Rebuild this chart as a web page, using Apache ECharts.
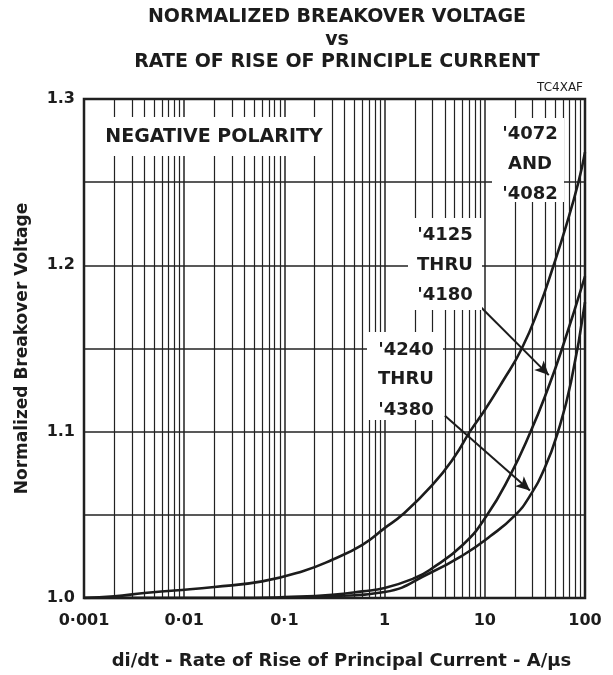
<!DOCTYPE html>
<html><head><meta charset="utf-8">
<script src="https://cdn.jsdelivr.net/npm/echarts@6/dist/echarts.min.js"></script>
<style>html,body{margin:0;padding:0;background:#fff}#c{width:613px;height:675px}</style>
</head><body><div id="c"></div>
<script>
// ---- data ----
const xTickLabels = ['0·001', '0·01', '0·1', '1', '10', '100'];
const yTickLabels = ['1.0', '1.1', '1.2', '1.3'];
const minorX = [0.002,0.003,0.004,0.005,0.006,0.007,0.008,0.009,
                0.02,0.03,0.04,0.05,0.06,0.07,0.08,0.09,
                0.2,0.3,0.4,0.5,0.6,0.7,0.8,0.9,
                2,3,4,5,6,7,8,9,
                20,30,40,50,60,70,80,90];
// '4072 AND '4082
const xA = [0.001, 0.002, 0.004, 0.008, 0.02, 0.06, 0.15, 0.3, 0.6, 1, 1.5, 3, 5, 7.1, 10, 15, 23.4, 35, 48, 65, 86, 100];
const yA = [1.000, 1.001, 1.003, 1.0045, 1.0066, 1.010, 1.016, 1.023, 1.032, 1.042, 1.050, 1.068, 1.085, 1.100, 1.113, 1.130, 1.150, 1.175, 1.199, 1.224, 1.250, 1.268];
// '4125 THRU '4180
const xB = [0.001, 0.05, 0.1, 0.3, 0.6, 1, 2, 2.84, 6.05, 10.5, 17.8, 28.2, 42.8, 58.9, 100];
const yB = [1.000, 1.000, 1.0005, 1.002, 1.004, 1.006, 1.012, 1.017, 1.032, 1.0497, 1.0734, 1.099, 1.1261, 1.1497, 1.1934];
// '4240 THRU '4380
const xC = [0.001, 0.1, 0.3, 1, 2.84, 6.05, 11.3, 20, 28.2, 39.9, 53.8, 72.5, 100];
const yC = [1.000, 1.000, 1.001, 1.0036, 1.015, 1.0257, 1.0371, 1.0497, 1.0614, 1.0786, 1.100, 1.1298, 1.1778];
// annotation arrows (data coords): [x1,y1,x2,y2]
const arrow1 = [8.55, 1.1766, 43.5, 1.134];
const arrow2 = [4.0, 1.1096, 28.2, 1.0647];

const zip = (xs, ys) => xs.map((x, i) => [x, ys[i]]);
const FONT = '"DejaVu Sans", "Liberation Sans", Arial, sans-serif';
const INK = '#1c1c1c';

const chart = echarts.init(document.getElementById('c'), null, {renderer: 'canvas'});

const curveStyle = {color: INK, width: 2.6};
const txt = (x, y, text, size, extra) => Object.assign({type: 'text', x: x, y: y, z: 26,
  style: {text: text, textAlign: 'center', textVerticalAlign: 'middle', font: 'bold ' + size + 'px ' + FONT, fill: INK}}, extra || {});

const option = {
  animation: false,
  backgroundColor: '#fff',
  grid: {left: 84, top: 99, width: 501, height: 501, show: true, borderColor: INK, borderWidth: 2.5, backgroundColor: 'transparent'},
  xAxis: {
    type: 'log', logBase: 10, min: 0.001, max: 100,
    axisLine: {show: false}, axisTick: {show: false},
    splitLine: {show: true, lineStyle: {color: '#222', width: 1.5}},
    axisLabel: {
      margin: 15, color: INK, fontFamily: FONT, fontWeight: 'bold', fontSize: 16,
      formatter: v => { const i = Math.round(Math.log10(v)) + 3; return xTickLabels[i] ?? ''; }
    },
    name: 'di/dt - Rate of Rise of Principal Current - A/\u03bcs',
    nameLocation: 'middle', nameGap: 54,
    nameTextStyle: {color: INK, fontFamily: FONT, fontWeight: 'bold', fontSize: 18, padding: [0, 0, 0, 14]}
  },
  yAxis: {
    type: 'value', min: 1.0, max: 1.3, interval: 0.05,
    axisLine: {show: false}, axisTick: {show: false},
    splitLine: {show: true, lineStyle: {color: '#222', width: 1.5}},
    axisLabel: {
      margin: 9, color: INK, fontFamily: FONT, fontWeight: 'bold', fontSize: 16,
      formatter: v => { const k = Math.round((v - 1) * 10); return Math.abs((v - 1) * 10 - k) < 1e-6 ? yTickLabels[k] : ''; }
    },
    name: 'Normalized Breakover Voltage', nameLocation: 'middle', nameGap: 53, nameRotate: 90,
    nameTextStyle: {color: INK, fontFamily: FONT, fontWeight: 'bold', fontSize: 17}
  },
  series: [
    {type: 'line', data: zip(xA, yA), smooth: 0.5, showSymbol: false, lineStyle: curveStyle, z: 5,
     markLine: {silent: true, symbol: 'none', label: {show: false}, z: 1,
       lineStyle: {color: '#222', width: 1.2, type: 'solid'},
       data: minorX.map(v => [{coord: [v, 1.0]}, {coord: [v, 1.3]}])}},
    {type: 'line', data: zip(xB, yB), smooth: 0.5, showSymbol: false, lineStyle: curveStyle, z: 5},
    {type: 'line', data: zip(xC, yC), smooth: 0.5, showSymbol: false, lineStyle: curveStyle, z: 5,
     markLine: {silent: true, symbol: ['none', 'arrow'], symbolSize: [10, 14], label: {show: false}, z: 20,
       lineStyle: {color: INK, width: 2, type: 'solid'},
       data: [
         [{coord: [arrow1[0], arrow1[1]]}, {coord: [arrow1[2], arrow1[3]]}],
         [{coord: [arrow2[0], arrow2[1]]}, {coord: [arrow2[2], arrow2[3]]}]
       ]}}
  ],
  graphic: [
    txt(337, 17, 'NORMALIZED BREAKOVER VOLTAGE', 19, {z: 30}),
    txt(337, 40, 'vs', 19, {z: 30}),
    txt(337, 62, 'RATE OF RISE OF PRINCIPLE CURRENT', 19, {z: 30}),
    {type: 'text', x: 583, y: 88, z: 30, style: {text: 'TC4XAF', textAlign: 'right', textVerticalAlign: 'middle', font: '12px ' + FONT, fill: INK}},
    // label boxes
    {type: 'rect', z: 25, shape: {x: 100, y: 117, width: 228, height: 39}, style: {fill: '#fff'}},
    txt(214, 137, 'NEGATIVE POLARITY', 19),
    {type: 'rect', z: 25, shape: {x: 492, y: 118, width: 72, height: 84}, style: {fill: '#fff'}},
    txt(530, 134, "'4072", 18), txt(530, 164, 'AND', 18), txt(530, 194, "'4082", 18),
    {type: 'rect', z: 25, shape: {x: 408, y: 218, width: 74, height: 92}, style: {fill: '#fff'}},
    txt(445, 235, "'4125", 18), txt(445, 265, 'THRU', 18), txt(445, 295, "'4180", 18),
    {type: 'rect', z: 25, shape: {x: 367, y: 332, width: 76, height: 88}, style: {fill: '#fff'}},
    txt(406, 350, "'4240", 18), txt(406, 379, 'THRU', 18), txt(406, 410, "'4380", 18)
  ]
};
chart.setOption(option);
</script></body></html>
